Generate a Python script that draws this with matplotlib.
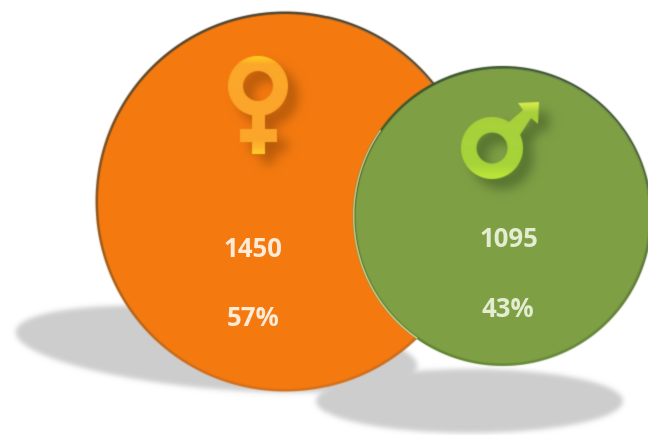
#!/usr/bin/env python3
"""Two overlapping gender bubbles with counts and shares."""

import numpy as np
import matplotlib
matplotlib.use("Agg")
import matplotlib.pyplot as plt
from matplotlib.backends.backend_agg import FigureCanvasAgg
from matplotlib.colors import to_rgb
from matplotlib.figure import Figure
from matplotlib.patches import Circle, Ellipse, PathPatch
from matplotlib.path import Path

# data
counts = [1450, 1095]
shares = ["57%", "43%"]

WIDTH, HEIGHT = 648, 435
# 4.35 * 100 truncates to 434 without the small nudge
FIGSIZE = ((WIDTH + 0.01) / 100, (HEIGHT + 0.01) / 100)


# ---------------------------------------------------------------------------
# Outlines, in pixel coordinates
# ---------------------------------------------------------------------------
def poly(points):
    points = [tuple(p) for p in points]
    return Path(points + [points[0]], closed=True)


def arc_points(cx, cy, r, start, stop):
    theta = np.radians(np.linspace(start, stop, 361))
    return np.column_stack([cx + r * np.cos(theta), cy + r * np.sin(theta)])


def ring(cx, cy, r_out, r_in):
    return Path.make_compound_path(poly(arc_points(cx, cy, r_out, 0, 359)),
                                   poly(arc_points(cx, cy, r_in, 359, 0)))


def band(cx, cy, r_out, r_in, start, stop):
    outer = arc_points(cx, cy, r_out, start, stop)
    inner = arc_points(cx, cy, r_in, stop, start)
    return poly(np.vstack([outer, inner]))


def venus_path():
    bars = poly([(252, 113), (265, 113), (265, 130), (277, 130), (277, 143),
                 (265, 143), (265, 155), (252, 155), (252, 143), (240, 143),
                 (240, 130), (252, 130)])
    return Path.make_compound_path(ring(258, 87, 30, 15), bars)


def mars_path():
    arrow = poly([(507, 124), (522, 111), (517, 104), (538, 103), (537, 125),
                  (530, 119), (519, 136)])
    return Path.make_compound_path(ring(491, 149, 31, 15.5), arrow)


def ellipse_path(center, w, h, angle):
    e = Ellipse(center, w, h, angle=angle)
    return e.get_path().transformed(e.get_patch_transform())


# ---------------------------------------------------------------------------
# Soft layers
# ---------------------------------------------------------------------------
def blurred_mask(path, sigma):
    # let Agg rasterize the outline, then blur it
    off = Figure(figsize=FIGSIZE, dpi=100)
    canvas = FigureCanvasAgg(off)
    a = off.add_axes([0, 0, 1, 1])
    a.set_xlim(0, WIDTH)
    a.set_ylim(HEIGHT, 0)
    a.axis("off")
    a.add_patch(PathPatch(path, facecolor="black", edgecolor="none"))
    canvas.draw()
    mask = 1.0 - np.asarray(canvas.buffer_rgba())[..., 0] / 255.0
    half = int(3 * sigma) + 1
    kernel = np.exp(-0.5 * (np.arange(-half, half + 1) / sigma) ** 2)
    kernel /= kernel.sum()
    mask = np.apply_along_axis(np.convolve, 0, mask, kernel, mode="same")
    mask = np.apply_along_axis(np.convolve, 1, mask, kernel, mode="same")
    return mask


def add_layer(ax, path, stops, sigma, alpha=1.0, zorder=2):
    """Paint path with a vertical colour ramp; stops = [(y, colour), ...]."""
    ys = [s[0] for s in stops]
    rgb = np.array([to_rgb(s[1]) for s in stops])
    rows = np.arange(HEIGHT) + 0.5
    image = np.zeros((HEIGHT, WIDTH, 4))
    for i in range(3):
        image[..., i] = np.interp(rows, ys, rgb[:, i])[:, None]
    image[..., 3] = blurred_mask(path, sigma) * alpha
    ax.imshow(image, extent=(0, WIDTH, HEIGHT, 0), origin="upper",
              interpolation="nearest", aspect="auto", zorder=zorder)


def shifted(path, dx, dy):
    return Path(path.vertices + np.array([dx, dy]), path.codes)


# ---------------------------------------------------------------------------
# Plot
# ---------------------------------------------------------------------------
fig = plt.figure(figsize=FIGSIZE, dpi=100)
ax = fig.add_axes([0, 0, 1, 1])

gray = [(0, "#CDCDCD"), (HEIGHT, "#CDCDCD")]
add_layer(ax, ellipse_path((216, 349), 402, 80, 5), gray, 2.5, zorder=1)
add_layer(ax, ellipse_path((469, 401), 306, 64, 0), gray, 2.5, zorder=1)

# orange bubble
ax.add_patch(Circle((285, 202), 188.5, facecolor="#F47A10", edgecolor="none",
                    zorder=2))
add_layer(ax, ring(285, 202, 189.5, 187.0),
          [(13, "#4A3A22"), (120, "#6E4A20"), (280, "#A9601A"), (391, "#D9701A")],
          0.6, zorder=3)

venus = venus_path()
add_layer(ax, shifted(venus, 10, 10), [(0, "#A85208"), (HEIGHT, "#A85208")],
          5.5, alpha=0.8, zorder=4)
add_layer(ax, venus,
          [(57, "#FFD21C"), (65, "#FBA82A"), (140, "#FBA52B"),
           (148, "#FDB52A"), (155, "#FFD030")], 0.6, zorder=5)

# green bubble
ax.add_patch(Circle((501.5, 216.5), 148.5, facecolor="#7F9F45", edgecolor="none",
                    zorder=6))
add_layer(ax, ring(501.5, 216.5, 149.5, 147.0),
          [(67, "#35502A"), (180, "#4A6528"), (300, "#5A7A30"), (366, "#668A38")],
          0.6, zorder=7)
add_layer(ax, band(501.5, 216.5, 149.5, 148.0, 125, 215),
          [(0, "#EDE6A8"), (HEIGHT, "#EDE6A8")], 0.5, alpha=0.8, zorder=7)

mars = mars_path()
add_layer(ax, shifted(mars, 10, 10), [(0, "#4C672A"), (HEIGHT, "#4C672A")],
          5.5, alpha=0.8, zorder=8)
add_layer(ax, mars,
          [(103, "#DDF24E"), (113, "#A9D03C"), (165, "#A6D438"),
           (181, "#C0EA38")], 0.6, zorder=9)

font = dict(family="Open Sans", fontweight="bold", fontsize=18.5,
            ha="center", va="center", zorder=10)
ax.text(253, 249, str(counts[0]), color="#FFEBD8", **font)
ax.text(253, 318, shares[0], color="#FFEBD8", **font)
ax.text(509, 239, str(counts[1]), color="#E4EDD2", **font)
ax.text(508, 309, shares[1], color="#E4EDD2", **font)

ax.set_xlim(0, WIDTH)
ax.set_ylim(HEIGHT, 0)
ax.axis("off")

fig.savefig("out.png", dpi=100)
